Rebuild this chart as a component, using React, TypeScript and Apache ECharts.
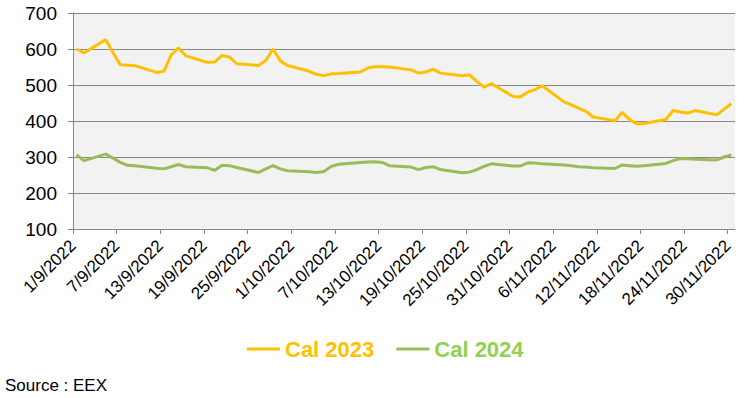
import React, { useEffect, useRef } from "react";
import * as echarts from "echarts";

const dates: string[] = [
  "1/9/2022", "2/9/2022", "5/9/2022", "6/9/2022", "7/9/2022", "8/9/2022", "9/9/2022",
  "12/9/2022", "13/9/2022", "14/9/2022", "15/9/2022", "16/9/2022",
  "19/9/2022", "20/9/2022", "21/9/2022", "22/9/2022", "23/9/2022",
  "26/9/2022", "27/9/2022", "28/9/2022", "29/9/2022", "30/9/2022",
  "3/10/2022", "4/10/2022", "5/10/2022", "6/10/2022", "7/10/2022",
  "10/10/2022", "11/10/2022", "12/10/2022", "13/10/2022", "14/10/2022",
  "17/10/2022", "18/10/2022", "19/10/2022", "20/10/2022", "21/10/2022",
  "24/10/2022", "25/10/2022", "26/10/2022", "27/10/2022", "28/10/2022",
  "31/10/2022", "1/11/2022", "2/11/2022", "3/11/2022", "4/11/2022",
  "7/11/2022", "8/11/2022", "9/11/2022", "10/11/2022", "11/11/2022",
  "14/11/2022", "15/11/2022", "16/11/2022", "17/11/2022", "18/11/2022",
  "21/11/2022", "22/11/2022", "23/11/2022", "24/11/2022", "25/11/2022",
  "28/11/2022", "29/11/2022", "30/11/2022",
];

const cal2023: number[] = [
  600, 589, 626, 590, 556, 555, 554,
  535, 538, 584, 603, 581,
  563, 564, 582, 578, 559,
  554, 568, 600, 567, 554,
  538, 529, 526, 531, 532,
  536, 547, 551, 551, 550,
  542, 533, 536, 544, 533,
  526, 528, 510, 494, 504,
  468, 467, 480, 487, 498,
  453, 445, 436, 427, 411,
  401, 424, 404, 392, 393,
  404, 429, 425, 422, 429,
  417, 433, 448,
];

const cal2024: number[] = [
  306, 290, 308, 297, 285, 277, 276,
  269, 267, 273, 279, 273,
  270, 263, 277, 276, 271,
  257, 267, 276, 267, 262,
  259, 257, 260, 274, 280,
  285, 286, 287, 285, 276,
  272, 265, 271, 273, 265,
  256, 258, 265, 274, 281,
  275, 275, 284, 283, 281,
  278, 276, 273, 272, 270,
  268, 278, 276, 274, 276,
  282, 290, 296, 295, 294,
  292, 300, 306,
];

const seriesNames: string[] = ["Cal 2023", "Cal 2024"];
const yTicks: number[] = [100, 200, 300, 400, 500, 600, 700];
const startDate = "1/9/2022";
const labelStepDays = 6;
const totalDays = 91;

const FONT = 'Arial, "Liberation Sans", sans-serif';

function parseDay(s: string): number {
  const [d, m, y] = s.split("/").map(Number);
  return Date.UTC(y, m - 1, d) / 86400000;
}
const day0 = parseDay(startDate);
function dayLabel(offset: number): string {
  const dt = new Date((day0 + offset) * 86400000);
  return `${dt.getUTCDate()}/${dt.getUTCMonth() + 1}/${dt.getUTCFullYear()}`;
}

export default function App() {
  const ref = useRef<HTMLDivElement>(null);
  useEffect(() => {
    if (!ref.current) return;
    const chart = echarts.init(ref.current, null, { renderer: "svg" });
    const xOf = (s: string) => parseDay(s) - day0 + 0.5;
    const tickVals: number[] = [];
    for (let v = 0; v < totalDays; v += labelStepDays) tickVals.push(v);
    const gray = "#878787";
    chart.setOption({
      animation: false,
      backgroundColor: "#ffffff",
      textStyle: { fontFamily: FONT },
      grid: {
        left: 73,
        right: 10,
        top: 13,
        bottom: 169,
        show: true,
        backgroundColor: "#F2F2F2",
        borderWidth: 0,
      },
      legend: {
        left: 242,
        top: 333,
        icon: "rect",
        itemWidth: 33,
        itemHeight: 3,
        itemGap: 22,
        data: [
          { name: seriesNames[0], textStyle: { color: "#FFC000" } },
          { name: seriesNames[1], textStyle: { color: "#92D050" } },
        ],
        textStyle: { fontSize: 22, fontWeight: "bold", fontFamily: FONT },
      },
      xAxis: {
        type: "value",
        min: 0,
        max: totalDays,
        interval: labelStepDays,
        splitLine: { show: false },
        axisLine: { show: true, lineStyle: { color: gray, width: 1 } },
        axisTick: {
          show: true,
          length: 5,
          lineStyle: { color: gray },
          customValues: tickVals,
        },
        axisLabel: {
          customValues: tickVals,
          rotate: 45,
          margin: 14,
          fontSize: 17,
          color: "#000",
          fontFamily: FONT,
          formatter: (v: number) => dayLabel(Math.round(v)),
        },
      },
      yAxis: {
        type: "value",
        min: yTicks[0],
        max: yTicks[yTicks.length - 1],
        interval: 100,
        axisLine: { show: true, lineStyle: { color: gray, width: 1 } },
        axisTick: { show: true, length: 5, lineStyle: { color: gray } },
        splitLine: { show: true, lineStyle: { color: gray, width: 1 } },
        axisLabel: { fontSize: 19, color: "#000", margin: 16, fontFamily: FONT },
      },
      series: [
        {
          name: seriesNames[0],
          type: "line",
          symbol: "none",
          color: "#FFC000",
          lineStyle: { width: 3, color: "#FFC000" },
          data: dates.map((d, i) => [xOf(d), cal2023[i]]),
          z: 3,
        },
        {
          name: seriesNames[1],
          type: "line",
          symbol: "none",
          color: "#9BBB59",
          lineStyle: { width: 3, color: "#9BBB59" },
          data: dates.map((d, i) => [xOf(d), cal2024[i]]),
          z: 2,
        },
      ],
      graphic: [
        {
          type: "text",
          left: 5,
          top: 377,
          style: { text: "Source : EEX", fontSize: 17, fill: "#000", fontFamily: FONT },
        },
      ],
    });
    return () => chart.dispose();
  }, []);
  return (
    <div
      ref={ref}
      style={{ position: "fixed", left: 0, top: 0, width: 745, height: 398 }}
    />
  );
}
